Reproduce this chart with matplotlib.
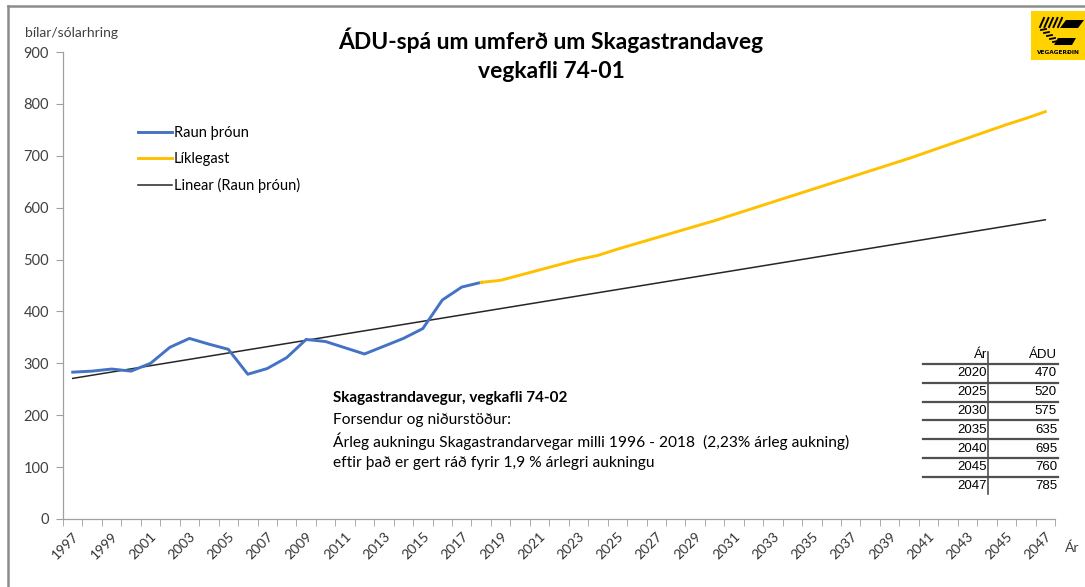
import matplotlib.pyplot as plt
import numpy as np
from matplotlib.patches import Rectangle, Polygon
from matplotlib.lines import Line2D

plt.rcParams['font.family'] = ['Lato', 'DejaVu Sans']

# Raun þróun - mæld ÁDU
ar_raun = np.arange(1997, 2019)
adu_raun = [283, 285, 289, 285, 300, 331, 348, 337, 327, 279, 290,
            311, 346, 342, 330, 318, 333, 348, 367, 422, 447, 456]

# Líklegast - spá
ar_spa = np.arange(2018, 2048)
adu_spa = [456, 460, 470, 480, 490, 500, 508, 520, 531, 542,
           553, 564, 575, 587, 599, 611, 623, 635, 647, 659,
           671, 683, 695, 708, 721, 734, 747, 760, 772, 785]

# tafla
tafla_ar = [2020, 2025, 2030, 2035, 2040, 2045, 2047]
tafla_adu = [470, 520, 575, 635, 695, 760, 785]

W, H = 1085, 587
fig = plt.figure(figsize=(W / 100, H / 100), dpi=100)


def px(x, y):
    return x / W, 1 - y / H


ax = fig.add_axes([63 / W, 1 - 519 / H, (1055 - 63) / W, (519 - 52) / H])

# trendlína eins og í Excel
coef = np.polyfit(ar_raun, adu_raun, 1)
ar_trend = np.arange(1997, 2048)
ax.plot(ar_trend, np.polyval(coef, ar_trend), color='#262626', lw=1.1,
        label='Linear (Raun þróun)', zorder=2)
ax.plot(ar_raun, adu_raun, color='#4472C4', lw=2.1, label='Raun þróun', zorder=3)
ax.plot(ar_spa, adu_spa, color='#FFC000', lw=2.1, label='Líklegast', zorder=3)

ax.set_xlim(1996.5, 2047.5)
ax.set_ylim(0, 900)
ax.set_yticks(range(0, 901, 100))
ax.set_xticks(range(1997, 2048, 2))
ax.set_xticklabels([str(a) for a in range(1997, 2048, 2)], rotation=45,
                   ha='right', va='top', rotation_mode='anchor')
ax.set_xticks(np.arange(1996.5, 2048, 1), minor=True)
ax.tick_params(axis='x', which='major', length=0, pad=8, labelsize=10, colors='#333333')
ax.tick_params(axis='x', which='minor', length=5, direction='out', color='#a0a0a0')
ax.tick_params(axis='y', length=5, direction='out', color='#a0a0a0', labelsize=10.5,
               labelcolor='#404040', pad=5)
for s in ['top', 'right']:
    ax.spines[s].set_visible(False)
for s in ['left', 'bottom']:
    ax.spines[s].set_color('#a0a0a0')
    ax.spines[s].set_linewidth(0.9)

h, l = ax.get_legend_handles_labels()
order = [1, 2, 0]
ax.legend([h[i] for i in order], [l[i] for i in order], loc='upper left',
          bbox_to_anchor=((138 - 63) / 992, (519 - 126) / 467), frameon=False,
          borderpad=0, borderaxespad=0, handlelength=2.3, handletextpad=0.15,
          labelspacing=0.82, fontsize=10.5)

# titill
fig.text(*px(551, 40), 'ÁDU-spá um umferð um Skagastrandaveg', ha='center',
         va='center', fontsize=16.5, fontweight='bold')
fig.text(*px(551, 72), 'vegkafli 74-01', ha='center', va='center',
         fontsize=16.5, fontweight='bold')
fig.text(*px(25, 33), 'bílar/sólarhring', ha='left', va='center', fontsize=10,
         color='#404040')
fig.text(*px(1065, 548), 'Ár', ha='left', va='center', fontsize=10, color='#404040')

# skýringartexti
fig.text(*px(333, 398), 'Skagastrandavegur, vegkafli 74-02', ha='left', va='center',
         fontsize=11, fontweight='bold')
skyring = ['Forsendur og niðurstöður:',
           'Árleg aukningu Skagastrandarvegar milli 1996 - 2018  (2,23% árleg aukning)',
           'eftir það er gert ráð fyrir 1,9 % árlegri aukningu']
for i, t in enumerate(skyring):
    fig.text(*px(333, 420 + i * 21.7), t, ha='left', va='center', fontsize=11.2)

# tafla
tf = ['Liberation Sans Narrow', 'Liberation Sans']
fig.text(*px(987, 355), 'Ár', ha='right', va='center', fontsize=9.5, family=tf)
fig.text(*px(1057, 355), 'ÁDU', ha='right', va='center', fontsize=9.5, family=tf)
for i, (a, d) in enumerate(zip(tafla_ar, tafla_adu)):
    yy = 373.5 + i * 18.8
    fig.text(*px(987, yy), str(a), ha='right', va='center', fontsize=9.5, family=tf)
    fig.text(*px(1057, yy), str(d), ha='right', va='center', fontsize=9.5, family=tf)
    yl = 364 + i * 18.8
    x0, y0 = px(923, yl)
    x1, _ = px(1058, yl)
    fig.add_artist(Line2D([x0, x1], [y0, y0], color='#505050', lw=1.6))
x0, y0 = px(988, 352)
_, y1 = px(988, 494)
fig.add_artist(Line2D([x0, x0], [y0, y1], color='#505050', lw=1.2))

# rammi
fig.add_artist(Line2D([8 / W, 1], [1 - 6 / H, 1 - 6 / H], color='#8c8c8c', lw=1.8))
fig.add_artist(Line2D([8 / W, 8 / W], [0, 1 - 6 / H], color='#8c8c8c', lw=1.8))

# merki Vegagerðarinnar
x0, y0 = px(1031, 60)
fig.add_artist(Rectangle((x0, y0), 54 / W, 49 / H, facecolor='#FFD200',
                         edgecolor='none'))
shapes = [
    [(1066, 20), (1084, 20), (1078, 28), (1060, 28)],
    [(1058, 38), (1076, 38), (1072, 45), (1054, 45)],
]
for s in shapes:
    fig.add_artist(Polygon([px(a, b) for a, b in s], closed=True, facecolor='black',
                           edgecolor='none'))
for k in range(5):
    xa = 1040 + k * 4.5
    fig.add_artist(Line2D([px(xa, 27)[0], px(xa + 4, 18)[0]],
                          [px(xa, 27)[1], px(xa + 4, 18)[1]], color='black', lw=1.4))
for k in range(5):
    xa = 1041 + k * 3
    ya = 30 + k * 3
    fig.add_artist(Line2D([px(xa, ya)[0], px(xa + 5, ya - 1)[0]],
                          [px(xa, ya)[1], px(xa + 5, ya - 1)[1]], color='black', lw=1.3))
fig.text(*px(1058, 52), 'VEGAGERÐIN', ha='center', va='center', fontsize=4.2,
         fontweight='bold', family=['DejaVu Sans'])

fig.savefig('out.png', dpi=100)
